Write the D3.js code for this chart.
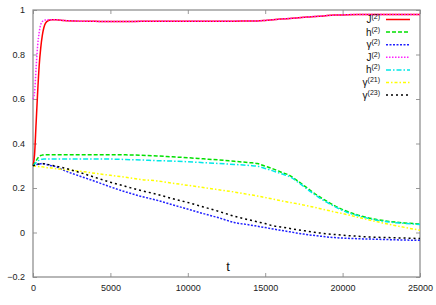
<!DOCTYPE html>
<html>
<head>
<meta charset="utf-8">
<script src="https://cdn.jsdelivr.net/npm/d3@7"></script>
<style>
  body { margin: 0; background: #fff; }
  svg { display: block; font-family: "Liberation Sans", Arial, sans-serif; }
</style>
</head>
<body>
<div id="chart"></div>
<script>
// time grid shared by all series
const tGrid = [0, 100, 200, 300, 400, 500, 600, 700, 800, 1000, 1200, 1500, 2000, 3000, 4000,
  5000, 6000, 7000, 8000, 9000, 10000, 11000, 12000, 13000, 14000, 14500, 15000, 15500,
  16000, 16600, 17000, 17500, 18000, 18500, 19000, 19500, 20000, 21000, 22000, 23000, 24000, 25000];

const J2a = [0.30, 0.35, 0.49, 0.63, 0.75, 0.83, 0.885, 0.92, 0.94, 0.953, 0.956, 0.956, 0.953, 0.95, 0.949,
  0.948, 0.948, 0.949, 0.949, 0.95, 0.95, 0.95, 0.95, 0.95, 0.951, 0.951, 0.953, 0.956,
  0.959, 0.962, 0.964, 0.967, 0.97, 0.972, 0.975, 0.977, 0.978, 0.98, 0.98, 0.98, 0.98, 0.98];
const h2a = [0.30, 0.31, 0.322, 0.333, 0.341, 0.346, 0.348, 0.349, 0.35, 0.35, 0.35, 0.35, 0.35, 0.35, 0.35,
  0.35, 0.349, 0.347, 0.344, 0.34, 0.336, 0.331, 0.326, 0.32, 0.314, 0.31, 0.298, 0.286,
  0.272, 0.256, 0.237, 0.211, 0.185, 0.161, 0.14, 0.12, 0.103, 0.078, 0.061, 0.05, 0.043, 0.038];
const g2 = [0.30, 0.302, 0.305, 0.307, 0.308, 0.309, 0.31, 0.309, 0.307, 0.303, 0.30, 0.295, 0.279, 0.254, 0.23,
  0.205, 0.182, 0.162, 0.145, 0.125, 0.105, 0.085, 0.066, 0.045, 0.034, 0.028, 0.022, 0.016,
  0.01, 0.003, -0.002, -0.007, -0.012, -0.016, -0.02, -0.023, -0.025, -0.028, -0.03, -0.032, -0.034, -0.035];
const J2b = [0.60, 0.63, 0.74, 0.84, 0.90, 0.935, 0.948, 0.953, 0.955, 0.956, 0.956, 0.956, 0.953, 0.95, 0.949,
  0.948, 0.948, 0.949, 0.949, 0.95, 0.95, 0.95, 0.95, 0.95, 0.951, 0.951, 0.953, 0.956,
  0.959, 0.962, 0.964, 0.967, 0.97, 0.972, 0.975, 0.977, 0.978, 0.98, 0.98, 0.98, 0.98, 0.98];
const h2b = [0.30, 0.307, 0.315, 0.321, 0.325, 0.328, 0.329, 0.33, 0.33, 0.33, 0.33, 0.33, 0.33, 0.33, 0.33,
  0.33, 0.328, 0.326, 0.323, 0.321, 0.318, 0.314, 0.31, 0.306, 0.301, 0.298, 0.288, 0.277,
  0.265, 0.25, 0.232, 0.206, 0.18, 0.156, 0.135, 0.116, 0.099, 0.075, 0.058, 0.047, 0.041, 0.036];
const g21 = [0.30, 0.299, 0.298, 0.297, 0.296, 0.295, 0.295, 0.294, 0.293, 0.291, 0.29, 0.287, 0.283, 0.276, 0.266,
  0.257, 0.248, 0.238, 0.232, 0.222, 0.212, 0.202, 0.192, 0.182, 0.17, 0.164, 0.157, 0.15,
  0.143, 0.135, 0.13, 0.123, 0.116, 0.108, 0.10, 0.092, 0.085, 0.068, 0.052, 0.037, 0.023, 0.01];
const g23 = [0.30, 0.302, 0.305, 0.307, 0.308, 0.309, 0.31, 0.309, 0.308, 0.305, 0.302, 0.298, 0.29, 0.27, 0.248,
  0.226, 0.207, 0.188, 0.172, 0.152, 0.135, 0.115, 0.095, 0.073, 0.056, 0.048, 0.04, 0.03,
  0.025, 0.018, 0.013, 0.008, 0.003, -0.002, -0.006, -0.009, -0.012, -0.017, -0.021, -0.023, -0.025, -0.027];

const xTicks = [0, 5000, 10000, 15000, 20000, 25000];
const yTicks = [-0.2, 0, 0.2, 0.4, 0.6, 0.8, 1];

const series = [
  {name: "J", sup: "(2)", vals: J2a, color: "#ff0000", dash: null},
  {name: "h", sup: "(2)", vals: h2a, color: "#00e000", dash: "4,2"},
  {name: "γ", sup: "(2)", vals: g2, color: "#2020ff", dash: "2,1.5"},
  {name: "J", sup: "(2)", vals: J2b, color: "#ff20ff", dash: "1.5,1.5"},
  {name: "h", sup: "(2)", vals: h2b, color: "#00e8e8", dash: "5,2,1.5,2"},
  {name: "γ", sup: "(21)", vals: g21, color: "#ffff00", dash: "3,2,1.5,2"},
  {name: "γ", sup: "(23)", vals: g23, color: "#000000", dash: "2,3"}
];

const W = 436, H = 305;
const margin = {top: 10, right: 16, bottom: 28, left: 33};
const width = W - margin.left - margin.right,
      height = H - margin.top - margin.bottom;

const svg = d3.select("#chart").append("svg")
    .attr("width", W)
    .attr("height", H);

const x = d3.scaleLinear().domain([0, 25000]).range([0, width]),
      y = d3.scaleLinear().domain([-0.2, 1]).range([height, 0]);

const g = svg.append("g")
    .attr("transform", `translate(${margin.left},${margin.top})`);

// inward ticks on all four sides (gnuplot style)
const tickStyle = sel => {
    sel.select(".domain").remove();
    sel.selectAll("line").attr("stroke", "#999").attr("stroke-width", 1);
    sel.selectAll("text").attr("fill", "#222").style("font-size", "9px");
};

g.append("g")
    .attr("transform", `translate(0,${height})`)
    .call(d3.axisBottom(x).tickValues(xTicks).tickSizeInner(-4).tickSizeOuter(0).tickPadding(8).tickFormat(d3.format("d")))
    .call(tickStyle);
g.append("g")
    .call(d3.axisTop(x).tickValues(xTicks).tickSizeInner(-4).tickSizeOuter(0).tickFormat(""))
    .call(tickStyle);
g.append("g")
    .call(d3.axisLeft(y).tickValues(yTicks).tickSizeInner(-4).tickSizeOuter(0).tickPadding(8).tickFormat(d => d === 0 ? "0" : d3.format("")(+d.toFixed(1))))
    .call(tickStyle);
g.append("g")
    .attr("transform", `translate(${width},0)`)
    .call(d3.axisRight(y).tickValues(yTicks).tickSizeInner(-4).tickSizeOuter(0).tickFormat(""))
    .call(tickStyle);

g.append("rect")
    .attr("width", width)
    .attr("height", height)
    .attr("fill", "none")
    .attr("stroke", "#888")
    .attr("stroke-width", 1.2);

// x label
svg.append("text")
    .attr("x", 228)
    .attr("y", 271)
    .attr("text-anchor", "middle")
    .style("font-size", "13px")
    .attr("fill", "#111")
    .text("t");

const line = d3.line()
    .x((d, i) => x(tGrid[i]))
    .y(d => y(d))
    .curve(d3.curveMonotoneX);

series.forEach(s => {
    g.append("path")
        .datum(s.vals)
        .attr("fill", "none")
        .attr("stroke", s.color)
        .attr("stroke-width", 1.5)
        .attr("stroke-dasharray", s.dash)
        .attr("d", line);
});

// legend
const legend = svg.append("g");
series.forEach((s, i) => {
    const ly = 19.5 + i * 12.6;
    const t = legend.append("text")
        .attr("x", 380)
        .attr("y", ly + 3.5)
        .attr("text-anchor", "end")
        .style("font-size", "10px")
        .attr("fill", "#111");
    t.append("tspan").text(s.name);
    t.append("tspan")
        .attr("dy", -4)
        .style("font-size", "7px")
        .text(s.sup);
    legend.append("line")
        .attr("x1", 386).attr("x2", 410)
        .attr("y1", ly).attr("y2", ly)
        .attr("stroke", s.color)
        .attr("stroke-width", 1.5)
        .attr("stroke-dasharray", s.dash);
});
</script>
</body>
</html>
